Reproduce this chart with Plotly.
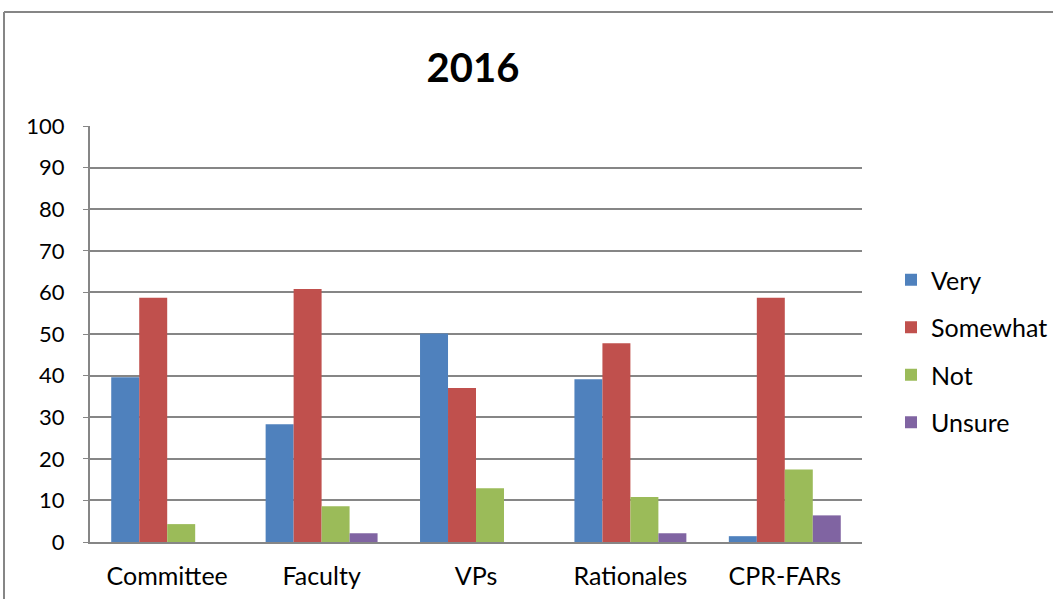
import plotly.graph_objects as go

categories = ["Committee", "Faculty", "VPs", "Rationales", "CPR-FARs"]
very = [39.6, 28.3, 50.1, 39.1, 1.4]
somewhat = [58.7, 60.8, 37.0, 47.8, 58.7]
not_ = [4.3, 8.6, 12.9, 10.8, 17.4]
unsure = [0, 2.1, 0, 2.1, 6.4]
series_names = ["Very", "Somewhat", "Not", "Unsure"]
colors = ["#4F81BD", "#C0504D", "#9BBB59", "#8064A2"]
y_ticks = list(range(0, 101, 10))

fig = go.Figure()
for i, (name, vals, col) in enumerate(zip(series_names, [very, somewhat, not_, unsure], colors)):
    fig.add_trace(go.Bar(x=categories, y=vals, name=name, marker_color=col,
                         marker_line_width=0, legendgroup=name))

W, H = 1053, 599
L, R, T, B = 90, 191, 126, 57
pw, ph = W - L - R, H - T - B

def px2x(px):
    return (px - L) / pw

def py2y(py):
    return (H - B - py) / ph

FONT = "Lato, Carlito, Arial"

fig.update_layout(
    width=W, height=H,
    margin=dict(l=L, r=R, t=T, b=B, autoexpand=False),
    paper_bgcolor="white", plot_bgcolor="white",
    font=dict(family=FONT, size=22, color="black"),
    title=dict(text="<b>2016</b>", x=473 / W, xanchor="center",
               y=1 - 68 / H, yanchor="middle",
               font=dict(family=FONT, size=40, color="black")),
    barmode="group", bargap=0.275, bargroupgap=0,
    showlegend=True,
    legend=dict(x=px2x(891), y=py2y(257), xanchor="left", yanchor="top",
                font=dict(size=25), tracegroupgap=12, itemwidth=30,
                bgcolor="rgba(0,0,0,0)"),
    xaxis=dict(showgrid=False, showline=True, linecolor="#868686", linewidth=2,
               ticks="", tickfont=dict(size=25), ticklabelstandoff=11),
    yaxis=dict(range=[0, 100], tickvals=y_ticks, showgrid=True, gridcolor="#868686",
               gridwidth=2, showline=True, linecolor="#868686", linewidth=2,
               ticks="outside", ticklen=5, tickcolor="#868686", zeroline=False,
               tickfont=dict(size=22), ticklabelstandoff=14),
    shapes=[
        dict(type="line", xref="paper", yref="paper", x0=px2x(4), x1=px2x(1060),
             y0=py2y(12), y1=py2y(12), line=dict(color="#868686", width=2)),
        dict(type="line", xref="paper", yref="paper", x0=px2x(4), x1=px2x(4),
             y0=py2y(12), y1=py2y(610), line=dict(color="#868686", width=2)),
    ],
)

fig.write_html("out.html", config={"displayModeBar": False},
               post_script="document.body.style.margin='0';")
